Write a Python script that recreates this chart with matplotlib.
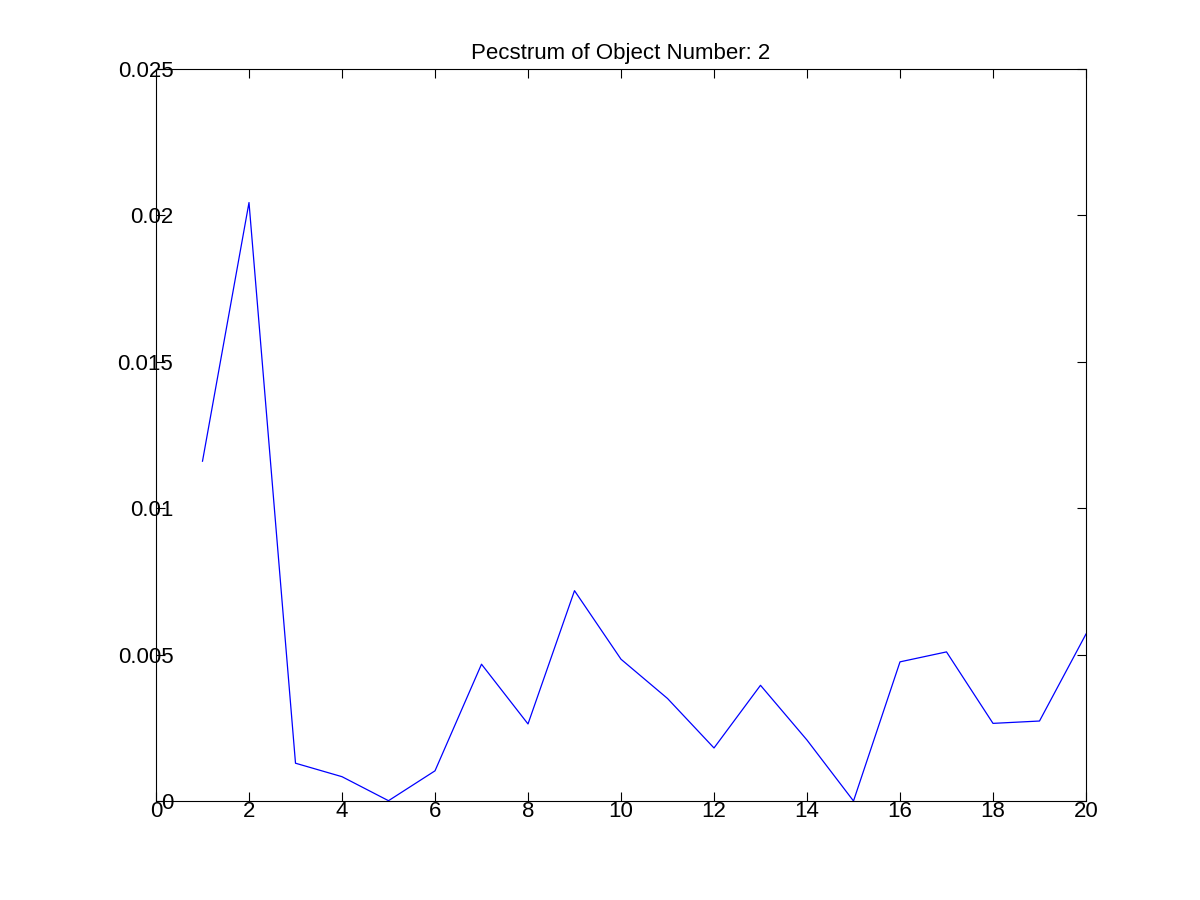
import matplotlib.pyplot as plt

# Pecstrum values
size_index = list(range(1, 21))
pecstrum = [0.0116, 0.02043, 0.00129, 0.00083, 0.00001, 0.00103, 0.00467,
            0.00263, 0.00718, 0.00484, 0.0035, 0.00181, 0.00395, 0.00208,
            0.0, 0.00475, 0.00509, 0.00265, 0.00273, 0.0057]

x_ticks = list(range(0, 21, 2))
y_ticks = [0, 0.005, 0.01, 0.015, 0.02, 0.025]
y_tick_labels = ["0", "0.005", "0.01", "0.015", "0.02", "0.025"]

plt.rcParams['font.family'] = ['Liberation Sans', 'DejaVu Sans']

fig = plt.figure(figsize=(12, 9), dpi=100)
ax = fig.add_axes([0.13, 0.11, 0.775, 0.8137])

ax.plot(size_index, pecstrum, color=(0, 0, 1), linewidth=0.9)

ax.set_xlim(0, 20)
ax.set_ylim(0, 0.025)
ax.set_xticks(x_ticks)
ax.set_xticklabels([str(t) for t in x_ticks])
ax.set_yticks(y_ticks)
ax.set_yticklabels(y_tick_labels)

# MATLAB-like box with inward ticks on all four sides
ax.tick_params(axis='both', direction='in', length=6.5, width=0.8,
               top=True, right=True, labelsize=16, colors='black')
ax.tick_params(axis='x', pad=0)
ax.tick_params(axis='y', pad=-12.5)
for side in ax.spines.values():
    side.set_linewidth(0.8)

ax.set_title("Pecstrum of Object Number: 2", fontsize=16, pad=7)

fig.savefig("out.png", dpi=100)
